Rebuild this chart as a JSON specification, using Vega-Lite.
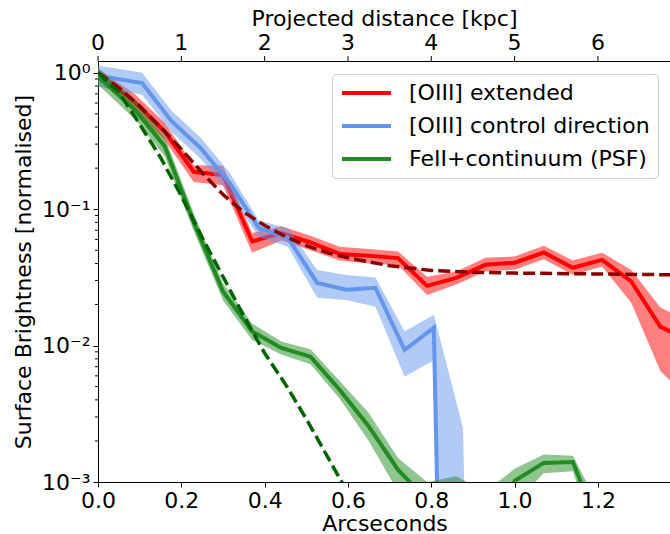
{
  "$schema": "https://vega.github.io/schema/vega-lite/v6.json",
  "width": 573,
  "height": 421,
  "autosize": "none",
  "padding": {"left": 98, "top": 61, "right": 0, "bottom": 52},
  "config": {
    "font": "DejaVu Sans",
    "view": {"stroke": "#000000", "strokeWidth": 1},
    "axis": {"labelFontSize": 22, "titleFontSize": 22, "titleFontWeight": "normal", "labelColor": "#000000", "titleColor": "#000000", "grid": false, "domain": true, "domainColor": "#000000", "domainWidth": 1, "ticks": true, "tickColor": "#000000", "tickWidth": 1, "tickSize": 5, "labelFont": "DejaVu Sans", "titleFont": "DejaVu Sans", "labelPadding": 3, "labelFlush": false, "labelOverlap": false}
  },
  "datasets": {
    "main": [
      {"s": "[OIII] extended", "x": 0.00, "y": 1.00, "lo": 0.92, "hi": 1.08},
      {"s": "[OIII] extended", "x": 0.09, "y": 0.60, "lo": 0.52, "hi": 0.69},
      {"s": "[OIII] extended", "x": 0.16, "y": 0.37, "lo": 0.32, "hi": 0.43},
      {"s": "[OIII] extended", "x": 0.23, "y": 0.188, "lo": 0.158, "hi": 0.21},
      {"s": "[OIII] extended", "x": 0.30, "y": 0.178, "lo": 0.150, "hi": 0.208},
      {"s": "[OIII] extended", "x": 0.37, "y": 0.058, "lo": 0.048, "hi": 0.067},
      {"s": "[OIII] extended", "x": 0.44, "y": 0.0667, "lo": 0.059, "hi": 0.075},
      {"s": "[OIII] extended", "x": 0.51, "y": 0.057, "lo": 0.050, "hi": 0.064},
      {"s": "[OIII] extended", "x": 0.58, "y": 0.047, "lo": 0.042, "hi": 0.053},
      {"s": "[OIII] extended", "x": 0.65, "y": 0.0455, "lo": 0.040, "hi": 0.051},
      {"s": "[OIII] extended", "x": 0.72, "y": 0.0438, "lo": 0.039, "hi": 0.049},
      {"s": "[OIII] extended", "x": 0.79, "y": 0.0274, "lo": 0.0235, "hi": 0.032},
      {"s": "[OIII] extended", "x": 0.86, "y": 0.0314, "lo": 0.028, "hi": 0.035},
      {"s": "[OIII] extended", "x": 0.93, "y": 0.0391, "lo": 0.035, "hi": 0.044},
      {"s": "[OIII] extended", "x": 1.00, "y": 0.0405, "lo": 0.036, "hi": 0.045},
      {"s": "[OIII] extended", "x": 1.07, "y": 0.0481, "lo": 0.043, "hi": 0.054},
      {"s": "[OIII] extended", "x": 1.14, "y": 0.0372, "lo": 0.033, "hi": 0.042},
      {"s": "[OIII] extended", "x": 1.21, "y": 0.0425, "lo": 0.038, "hi": 0.048},
      {"s": "[OIII] extended", "x": 1.28, "y": 0.0295, "lo": 0.0206, "hi": 0.0358},
      {"s": "[OIII] extended", "x": 1.35, "y": 0.0137, "lo": 0.0065, "hi": 0.019},
      {"s": "[OIII] extended", "x": 1.42, "y": 0.011, "lo": 0.004, "hi": 0.015},
      {"s": "[OIII] control direction", "x": 0.000, "y": 0.95, "lo": 0.79, "hi": 1.13},
      {"s": "[OIII] control direction", "x": 0.106, "y": 0.84, "lo": 0.69, "hi": 1.0},
      {"s": "[OIII] control direction", "x": 0.176, "y": 0.444, "lo": 0.37, "hi": 0.53},
      {"s": "[OIII] control direction", "x": 0.246, "y": 0.281, "lo": 0.235, "hi": 0.335},
      {"s": "[OIII] control direction", "x": 0.316, "y": 0.156, "lo": 0.13, "hi": 0.185},
      {"s": "[OIII] control direction", "x": 0.386, "y": 0.0726, "lo": 0.0626, "hi": 0.0826},
      {"s": "[OIII] control direction", "x": 0.456, "y": 0.0616, "lo": 0.053, "hi": 0.0724},
      {"s": "[OIII] control direction", "x": 0.526, "y": 0.0288, "lo": 0.0224, "hi": 0.0358},
      {"s": "[OIII] control direction", "x": 0.596, "y": 0.0257, "lo": 0.0216, "hi": 0.0329},
      {"s": "[OIII] control direction", "x": 0.666, "y": 0.0265, "lo": 0.0193, "hi": 0.0315},
      {"s": "[OIII] control direction", "x": 0.736, "y": 0.0093, "lo": 0.0059, "hi": 0.0127},
      {"s": "[OIII] control direction", "x": 0.806, "y": 0.0135, "lo": 0.0078, "hi": 0.0168},
      {"s": "[OIII] control direction", "x": 0.876, "y": 1e-12, "lo": 1e-12, "hi": 0.0025},
      {"s": "[OIII] control direction", "x": 0.946, "y": 1e-12, "lo": 1e-12, "hi": 1e-12},
      {"s": "FeII+continuum (PSF)", "x": 0.00, "y": 0.94, "lo": 0.82, "hi": 1.08},
      {"s": "FeII+continuum (PSF)", "x": 0.09, "y": 0.53, "lo": 0.45, "hi": 0.63},
      {"s": "FeII+continuum (PSF)", "x": 0.16, "y": 0.29, "lo": 0.245, "hi": 0.34},
      {"s": "FeII+continuum (PSF)", "x": 0.23, "y": 0.08, "lo": 0.069, "hi": 0.093},
      {"s": "FeII+continuum (PSF)", "x": 0.30, "y": 0.0249, "lo": 0.0215, "hi": 0.0287},
      {"s": "FeII+continuum (PSF)", "x": 0.37, "y": 0.0127, "lo": 0.011, "hi": 0.0145},
      {"s": "FeII+continuum (PSF)", "x": 0.44, "y": 0.0096, "lo": 0.0086, "hi": 0.0107},
      {"s": "FeII+continuum (PSF)", "x": 0.51, "y": 0.0083, "lo": 0.0073, "hi": 0.0094},
      {"s": "FeII+continuum (PSF)", "x": 0.58, "y": 0.00475, "lo": 0.0041, "hi": 0.0055},
      {"s": "FeII+continuum (PSF)", "x": 0.65, "y": 0.00255, "lo": 0.0020, "hi": 0.0032},
      {"s": "FeII+continuum (PSF)", "x": 0.72, "y": 0.00123, "lo": 0.00085, "hi": 0.0015},
      {"s": "FeII+continuum (PSF)", "x": 0.79, "y": 0.00074, "lo": 0.0005, "hi": 0.001},
      {"s": "FeII+continuum (PSF)", "x": 0.86, "y": 0.0007, "lo": 0.0004, "hi": 0.0011},
      {"s": "FeII+continuum (PSF)", "x": 0.93, "y": 0.0003, "lo": 0.00015, "hi": 0.00085},
      {"s": "FeII+continuum (PSF)", "x": 1.00, "y": 0.00102, "lo": 0.0007, "hi": 0.00125},
      {"s": "FeII+continuum (PSF)", "x": 1.07, "y": 0.00138, "lo": 0.00116, "hi": 0.00159},
      {"s": "FeII+continuum (PSF)", "x": 1.14, "y": 0.0014, "lo": 0.0012, "hi": 0.00156},
      {"s": "FeII+continuum (PSF)", "x": 1.21, "y": 0.0004, "lo": 0.00025, "hi": 0.0006},
      {"s": "FeII+continuum (PSF)", "x": 1.28, "y": 0.0003, "lo": 0.0002, "hi": 0.0004},
      {"s": "FeII+continuum (PSF)", "x": 1.35, "y": 0.0003, "lo": 0.0002, "hi": 0.0004}
    ],
    "fits": [
      {"m": "red", "x": 0.00, "y": 1.0},
      {"m": "red", "x": 0.05, "y": 0.78},
      {"m": "red", "x": 0.10, "y": 0.57},
      {"m": "red", "x": 0.15, "y": 0.40},
      {"m": "red", "x": 0.20, "y": 0.275},
      {"m": "red", "x": 0.25, "y": 0.185},
      {"m": "red", "x": 0.30, "y": 0.128},
      {"m": "red", "x": 0.35, "y": 0.095},
      {"m": "red", "x": 0.40, "y": 0.076},
      {"m": "red", "x": 0.45, "y": 0.063},
      {"m": "red", "x": 0.50, "y": 0.054},
      {"m": "red", "x": 0.55, "y": 0.048},
      {"m": "red", "x": 0.60, "y": 0.044},
      {"m": "red", "x": 0.70, "y": 0.0385},
      {"m": "red", "x": 0.80, "y": 0.0355},
      {"m": "red", "x": 0.90, "y": 0.0345},
      {"m": "red", "x": 1.00, "y": 0.034},
      {"m": "red", "x": 1.20, "y": 0.0335},
      {"m": "red", "x": 1.40, "y": 0.033},
      {"m": "green", "x": 0.00, "y": 1.0},
      {"m": "green", "x": 0.05, "y": 0.72},
      {"m": "green", "x": 0.10, "y": 0.42},
      {"m": "green", "x": 0.15, "y": 0.24},
      {"m": "green", "x": 0.20, "y": 0.125},
      {"m": "green", "x": 0.25, "y": 0.062},
      {"m": "green", "x": 0.30, "y": 0.032},
      {"m": "green", "x": 0.35, "y": 0.0165},
      {"m": "green", "x": 0.40, "y": 0.0088},
      {"m": "green", "x": 0.45, "y": 0.0052},
      {"m": "green", "x": 0.50, "y": 0.0029},
      {"m": "green", "x": 0.55, "y": 0.00155},
      {"m": "green", "x": 0.60, "y": 0.00083},
      {"m": "green", "x": 0.65, "y": 0.00045}
    ],
    "yminor": [
      {"v": 0.002}, {"v": 0.003}, {"v": 0.004}, {"v": 0.005}, {"v": 0.006}, {"v": 0.007}, {"v": 0.008}, {"v": 0.009},
      {"v": 0.02}, {"v": 0.03}, {"v": 0.04}, {"v": 0.05}, {"v": 0.06}, {"v": 0.07}, {"v": 0.08}, {"v": 0.09},
      {"v": 0.2}, {"v": 0.3}, {"v": 0.4}, {"v": 0.5}, {"v": 0.6}, {"v": 0.7}, {"v": 0.8}, {"v": 0.9}
    ],
    "kpc": [
      {"v": 0, "t": "0"}, {"v": 0.2, "t": "1"}, {"v": 0.4, "t": "2"}, {"v": 0.6, "t": "3"}, {"v": 0.8, "t": "4"}, {"v": 1.0, "t": "5"}, {"v": 1.2, "t": "6"}
    ],
    "toptitle": [{"v": 0.6877, "t": "Projected distance [kpc]"}]
  },
  "layer": [
    {
      "data": {"name": "main"},
      "transform": [{"filter": "datum.s == '[OIII] extended'"}],
      "mark": {"type": "area", "color": "#ff0000", "opacity": 0.5, "clip": true},
      "encoding": {
        "x": {"field": "x", "type": "quantitative", "scale": {"domain": [0, 1.3754], "nice": false, "zero": false},
          "axis": {"orient": "bottom", "values": [0, 0.2, 0.4, 0.6, 0.8, 1.0, 1.2], "format": ".1f", "title": "Arcseconds", "titlePadding": 2}},
        "y": {"field": "lo", "type": "quantitative", "scale": {"type": "log", "domain": [0.001, 1.22], "nice": false},
          "axis": {"orient": "left", "title": "Surface Brightness [normalised]", "titlePadding": 6,
            "values": [0.001, 0.01, 0.1, 1],
            "labelExpr": "datum.value == 1 ? '10⁰' : datum.value == 0.1 ? '10⁻¹' : datum.value == 0.01 ? '10⁻²' : '10⁻³'"}},
        "y2": {"field": "hi"}
      }
    },
    {
      "data": {"name": "main"},
      "transform": [{"filter": "datum.s == '[OIII] extended'"}],
      "mark": {"type": "line", "strokeWidth": 4, "clip": true},
      "encoding": {
        "x": {"field": "x", "type": "quantitative"},
        "y": {"field": "y", "type": "quantitative"},
        "stroke": {"field": "s", "type": "nominal",
          "scale": {"domain": ["[OIII] extended", "[OIII] control direction", "FeII+continuum (PSF)"], "range": ["#ff0000", "#6495ed", "#228b22"]},
          "legend": {"title": null, "orient": "none", "legendX": 234, "legendY": 13, "symbolType": "stroke", "symbolSize": 2400, "symbolStrokeWidth": 4, "clipHeight": 22, "rowPadding": 11, "labelFontSize": 22, "labelFont": "DejaVu Sans", "labelColor": "black", "labelOffset": 16, "labelLimit": 400, "padding": 8, "strokeColor": "#cccccc", "fillColor": "white", "cornerRadius": 4}}
      }
    },
    {
      "data": {"name": "main"},
      "transform": [{"filter": "datum.s == '[OIII] control direction'"}],
      "mark": {"type": "area", "color": "#6495ed", "opacity": 0.5, "clip": true},
      "encoding": {
        "x": {"field": "x", "type": "quantitative"},
        "y": {"field": "lo", "type": "quantitative"},
        "y2": {"field": "hi"}
      }
    },
    {
      "data": {"name": "main"},
      "transform": [{"filter": "datum.s == '[OIII] control direction'"}],
      "mark": {"type": "line", "strokeWidth": 4, "clip": true},
      "encoding": {
        "x": {"field": "x", "type": "quantitative"},
        "y": {"field": "y", "type": "quantitative"},
        "stroke": {"field": "s", "type": "nominal"}
      }
    },
    {
      "data": {"name": "main"},
      "transform": [{"filter": "datum.s == 'FeII+continuum (PSF)'"}],
      "mark": {"type": "area", "color": "#228b22", "opacity": 0.5, "clip": true},
      "encoding": {
        "x": {"field": "x", "type": "quantitative"},
        "y": {"field": "lo", "type": "quantitative"},
        "y2": {"field": "hi"}
      }
    },
    {
      "data": {"name": "main"},
      "transform": [{"filter": "datum.s == 'FeII+continuum (PSF)'"}],
      "mark": {"type": "line", "strokeWidth": 4, "clip": true},
      "encoding": {
        "x": {"field": "x", "type": "quantitative"},
        "y": {"field": "y", "type": "quantitative"},
        "stroke": {"field": "s", "type": "nominal"}
      }
    },
    {
      "data": {"name": "fits"},
      "transform": [{"filter": "datum.m == 'red'"}],
      "mark": {"type": "line", "strokeWidth": 3.5, "color": "#8b0000", "strokeDash": [12, 5], "clip": true},
      "encoding": {
        "x": {"field": "x", "type": "quantitative"},
        "y": {"field": "y", "type": "quantitative"}
      }
    },
    {
      "data": {"name": "fits"},
      "transform": [{"filter": "datum.m == 'green'"}],
      "mark": {"type": "line", "strokeWidth": 3.5, "color": "#006400", "strokeDash": [12, 5], "clip": true},
      "encoding": {
        "x": {"field": "x", "type": "quantitative"},
        "y": {"field": "y", "type": "quantitative"}
      }
    },
    {
      "data": {"name": "yminor"},
      "mark": {"type": "tick", "orient": "horizontal", "size": 3, "thickness": 1, "xOffset": -1.5, "color": "#000000", "opacity": 1},
      "encoding": {
        "x": {"datum": 0, "type": "quantitative"},
        "y": {"field": "v", "type": "quantitative"}
      }
    },
    {
      "data": {"name": "kpc"},
      "mark": {"type": "tick", "orient": "vertical", "size": 5, "thickness": 1, "yOffset": -2.5, "color": "#000000", "opacity": 1},
      "encoding": {
        "x": {"field": "v", "type": "quantitative"},
        "y": {"datum": 1.22, "type": "quantitative"}
      }
    },
    {
      "data": {"name": "kpc"},
      "mark": {"type": "text", "baseline": "alphabetic", "align": "center", "yOffset": -11, "fontSize": 22, "font": "DejaVu Sans", "color": "#000000"},
      "encoding": {
        "x": {"field": "v", "type": "quantitative"},
        "y": {"datum": 1.22, "type": "quantitative"},
        "text": {"field": "t", "type": "nominal"}
      }
    },
    {
      "data": {"name": "toptitle"},
      "mark": {"type": "text", "baseline": "alphabetic", "align": "center", "yOffset": -35, "fontSize": 22, "font": "DejaVu Sans", "color": "#000000"},
      "encoding": {
        "x": {"field": "v", "type": "quantitative"},
        "y": {"datum": 1.22, "type": "quantitative"},
        "text": {"field": "t", "type": "nominal"}
      }
    }
  ]
}
